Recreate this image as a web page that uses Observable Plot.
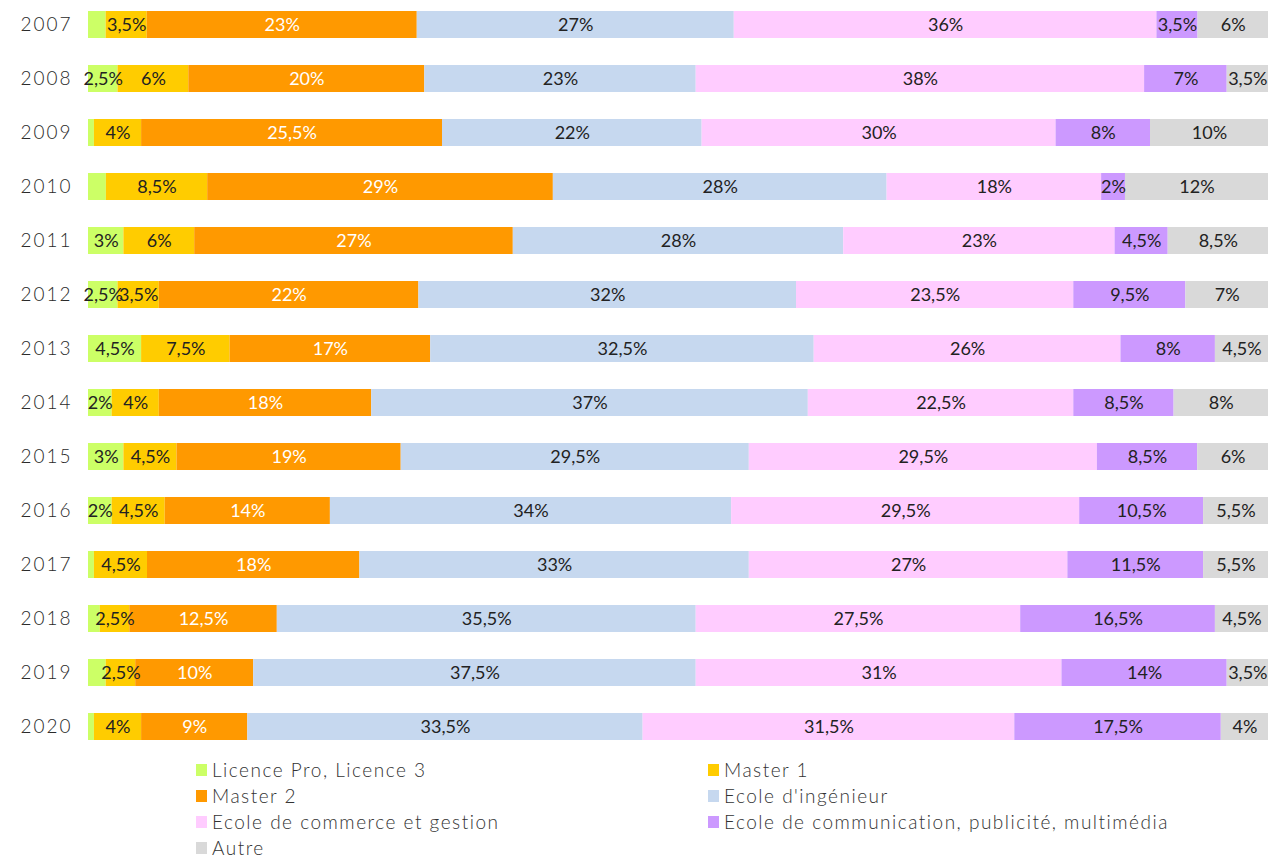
<!DOCTYPE html>
<html>
<head>
<meta charset="utf-8">
<script src="https://cdn.jsdelivr.net/npm/d3@7"></script>
<script src="https://cdn.jsdelivr.net/npm/@observablehq/plot@0.6"></script>
<style>
  html, body { margin: 0; padding: 0; background: #fff; }
  body { width: 1271px; height: 857px; overflow: hidden; font-family: Lato, "Open Sans", sans-serif; }
  #legend { position: relative; height: 102px; font-size: 19px; color: #333; font-weight: 300; letter-spacing: 1.5px; }
  .item { position: absolute; display: flex; align-items: center; white-space: nowrap; line-height: 18px; }
  .sw { width: 11px; height: 12px; margin-right: 5px; display: inline-block; }
  svg g[aria-label="y-axis tick label"] text { letter-spacing: 2px; fill: #2a2a2a; font-weight: 300; }
</style>
</head>
<body>
<div id="chart"></div>
<div id="legend"></div>
<script>
const years = [2007, 2008, 2009, 2010, 2011, 2012, 2013, 2014, 2015, 2016, 2017, 2018, 2019, 2020];
const seriesNames = ["Licence Pro, Licence 3", "Master 1", "Master 2", "Ecole d'ingénieur", "Ecole de commerce et gestion", "Ecole de communication, publicité, multimédia", "Autre"];
const colors = ["#ccff66", "#ffcc00", "#ff9900", "#c6d8ef", "#ffccff", "#cc99ff", "#d9d9d9"];
const licence       = [1.5, 2.5, 0.5, 1.5, 3, 2.5, 4.5, 2, 3, 2, 0.5, 1, 1.5, 0.5];
const master1       = [3.5, 6, 4, 8.5, 6, 3.5, 7.5, 4, 4.5, 4.5, 4.5, 2.5, 2.5, 4];
const master2       = [23, 20, 25.5, 29, 27, 22, 17, 18, 19, 14, 18, 12.5, 10, 9];
const ingenieur     = [27, 23, 22, 28, 28, 32, 32.5, 37, 29.5, 34, 33, 35.5, 37.5, 33.5];
const commerce      = [36, 38, 30, 18, 23, 23.5, 26, 22.5, 29.5, 29.5, 27, 27.5, 31, 31.5];
const communication = [3.5, 7, 8, 2, 4.5, 9.5, 8, 8.5, 8.5, 10.5, 11.5, 16.5, 14, 17.5];
const autre         = [6, 3.5, 10, 12, 8.5, 7, 4.5, 8, 6, 5.5, 5.5, 4.5, 3.5, 4];
const seriesValues = [licence, master1, master2, ingenieur, commerce, communication, autre];

const table = years.flatMap((y, i) => seriesNames.map((s, j) => ({year: String(y), series: s, value: seriesValues[j][i]})));
const fmt = v => String(v).replace(".", ",") + "%";
const FONT = "Lato, 'Open Sans', sans-serif";

const stackOpts = extra => Plot.stackX({x: "value", y: "year", z: "series", order: seriesNames, offset: "normalize", ...extra});

const chart = Plot.plot({
  width: 1271,
  height: 755,
  marginLeft: 88,
  marginRight: 3,
  marginTop: 10,
  marginBottom: 14,
  style: {fontFamily: FONT, fontSize: "19px", color: "#222", background: "#fff"},
  x: {axis: null, domain: [0, 1]},
  y: {domain: years.map(String), paddingInner: 0.5, paddingOuter: 0, label: null, tickSize: 0, tickPadding: 16},
  color: {domain: seriesNames, range: colors},
  marks: [
    Plot.barX(table, stackOpts({fill: "series"})),
    Plot.textX(table, stackOpts({
      text: d => d.series === "Master 2" ? fmt(d.value) : "",
      fill: "white", fontSize: 18, fontFamily: FONT, letterSpacing: 0.8
    })),
    Plot.textX(table, stackOpts({
      text: d => (d.series !== "Master 2" && d.value >= 2) ? fmt(d.value) : "",
      fill: "#222", fontSize: 18, fontFamily: FONT, letterSpacing: 0.8
    }))
  ]
});
document.getElementById("chart").appendChild(chart);

const legend = document.getElementById("legend");
const cols = [196, 708];
seriesNames.forEach((s, i) => {
  const el = document.createElement("div");
  el.className = "item";
  el.style.left = cols[i % 2] + "px";
  el.style.top = (6 + Math.floor(i / 2) * 26) + "px";
  el.innerHTML = `<span class="sw" style="background:${colors[i]}"></span><span>${s}</span>`;
  legend.appendChild(el);
});
</script>
</body>
</html>
